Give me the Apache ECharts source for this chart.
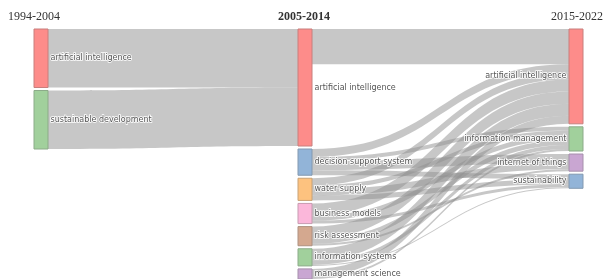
<!DOCTYPE html>
<html lang="en">
<head>
    <meta charset="UTF-8">
    <title>Keyword evolution sankey</title>
    <script src="https://cdn.jsdelivr.net/npm/echarts@6/dist/echarts.min.js"></script>
    <style>
        html, body { margin: 0; padding: 0; background: #fff; }
        #chart { width: 603px; height: 279px; }
    </style>
</head>
<body>
<div id="chart"></div>
<script>
    // periods (column titles)
    var periods = ['1994-2004', '2005-2014', '2015-2022'];

    // keywords in each period, top to bottom
    var col1 = ['artificial intelligence', 'sustainable development'];
    var col2 = ['artificial intelligence', 'decision support system', 'water supply', 'business models',
        'risk assessment', 'information systems', 'management science'];
    var col3 = ['artificial intelligence', 'information management', 'internet of things', 'sustainability'];

    var nodeColors = {
        'artificial intelligence': '#fd8c8a',
        'sustainable development': '#a1d09c',
        'decision support system': '#92b4d8',
        'water supply': '#fdc27f',
        'business models': '#fbb7da',
        'risk assessment': '#d4a88f',
        'information systems': '#a1d09c',
        'management science': '#c9a6d2',
        'information management': '#a1d09c',
        'internet of things': '#c9a6d2',
        'sustainability': '#92b4d8'
    };

    // flows: [source column, source, target column, target, value]
    var flows = [
        [0, 'artificial intelligence', 1, 'artificial intelligence', 58],
        [0, 'sustainable development', 1, 'artificial intelligence', 58],

        [1, 'artificial intelligence', 2, 'artificial intelligence', 35],

        [1, 'decision support system', 2, 'artificial intelligence', 8],
        [1, 'decision support system', 2, 'information management', 4],
        [1, 'decision support system', 2, 'internet of things', 9],
        [1, 'decision support system', 2, 'sustainability', 5],

        [1, 'water supply', 2, 'artificial intelligence', 7],
        [1, 'water supply', 2, 'information management', 4],
        [1, 'water supply', 2, 'internet of things', 6],
        [1, 'water supply', 2, 'sustainability', 5],

        [1, 'business models', 2, 'artificial intelligence', 12],
        [1, 'business models', 2, 'information management', 5],
        [1, 'business models', 2, 'sustainability', 3],

        [1, 'risk assessment', 2, 'artificial intelligence', 12],
        [1, 'risk assessment', 2, 'information management', 5],
        [1, 'risk assessment', 2, 'internet of things', 2],

        [1, 'information systems', 2, 'artificial intelligence', 12],
        [1, 'information systems', 2, 'information management', 4],
        [1, 'information systems', 2, 'sustainability', 1],

        [1, 'management science', 2, 'artificial intelligence', 8],
        [1, 'management science', 2, 'information management', 2]
    ];

    var columns = [col1, col2, col3];
    var nodes = [];
    columns.forEach(function (col, d) {
        col.forEach(function (name) {
            var node = {
                name: d + '|' + name,
                depth: d,
                itemStyle: {
                    color: nodeColors[name],
                    borderColor: echarts.color.lerp(0.35, [nodeColors[name], '#666666']),
                    borderWidth: 1
                },
                label: {
                    position: d === 2 ? 'left' : 'right'
                }
            };
            // middle column sits a little left of centre in the original
            if (d === 1) node.localX = 264 / 549;
            nodes.push(node);
        });
    });

    var links = flows.map(function (f) {
        return { source: f[0] + '|' + f[1], target: f[2] + '|' + f[3], value: f[4] };
    });

    var chart = echarts.init(document.getElementById('chart'));

    var option = {
        animation: false,
        graphic: [
            { type: 'text', left: 8, top: 11, style: { text: periods[0], font: '12px "Liberation Serif"', fill: '#333' } },
            { type: 'text', left: 278, top: 11, style: { text: periods[1], font: 'bold 12px "Liberation Serif"', fill: '#333' } },
            { type: 'text', left: 551, top: 11, style: { text: periods[2], font: '12px "Liberation Serif"', fill: '#333' } }
        ],
        series: [
            {
                type: 'sankey',
                left: 34,
                right: 20,
                top: 29,
                bottom: 0,
                nodeWidth: 14,
                nodeGap: 3,
                layoutIterations: 0,
                draggable: false,
                data: nodes,
                links: links,
                label: {
                    fontFamily: 'DejaVu Sans',
                    fontSize: 8,
                    color: '#555',
                    distance: 2,
                    textBorderColor: '#fff',
                    textBorderWidth: 1.5,
                    formatter: function (p) {
                        return p.name.split('|')[1];
                    }
                },
                lineStyle: {
                    color: '#8f8f8f',
                    opacity: 0.5,
                    curveness: 0.5
                },
                emphasis: { disabled: true }
            }
        ]
    };
    chart.setOption(option);
</script>
</body>
</html>
